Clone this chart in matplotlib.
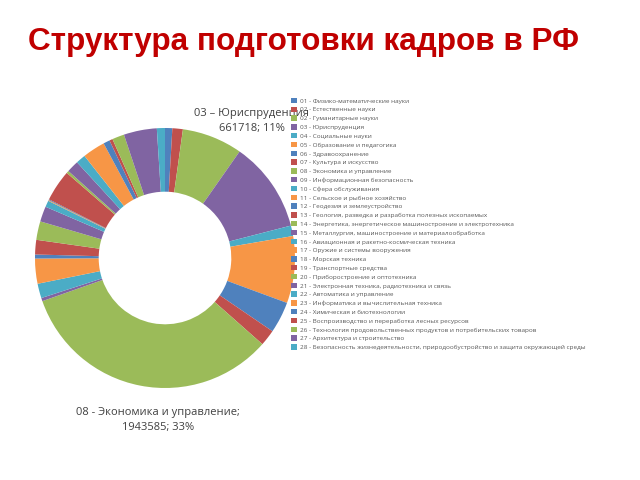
import matplotlib
matplotlib.use("Agg")
import matplotlib.pyplot as plt

title = "Структура подготовки кадров в РФ"

categories = [
    "01 - Физико-математические науки",
    "02 - Естественные науки",
    "02 - Гуманитарные науки",
    "03 - Юриспруденция",
    "04 - Социальные науки",
    "05 - Образование и педагогика",
    "06 - Здравоохранение",
    "07 - Культура и искусство",
    "08 - Экономика и управление",
    "09 - Информационная безопасность",
    "10 - Сфера обслуживания",
    "11 - Сельское и рыбное хозяйство",
    "12 - Геодезия и землеустройство",
    "13 - Геология, разведка и разработка полезных ископаемых",
    "14 - Энергетика, энергетическое машиностроение и электротехника",
    "15 - Металлургия, машиностроение и материалообработка",
    "16 - Авиационная и ракетно-космическая техника",
    "17 - Оружие и системы вооружения",
    "18 - Морская техника",
    "19 - Транспортные средства",
    "20 - Приборостроение и оптотехника",
    "21 - Электронная техника, радиотехника и связь",
    "22 - Автоматика и управление",
    "23 - Информатика и вычислительная техника",
    "24 - Химическая и биотехнологии",
    "25 - Воспроизводство и переработка лесных ресурсов",
    "26 - Технология продовольственных продуктов и потребительских товаров",
    "27 - Архитектура и строительство",
    "28 - Безопасность жизнедеятельности, природообустройство и защита окружающей среды",
]

values = [
    53000, 76600, 441700, 661718, 76600, 488900, 229700, 117800, 1943585,
    23600, 106000, 182600, 29500, 106000, 135500, 111900, 47100, 5900, 5900,
    229700, 17700, 88400, 70700, 164900, 47100, 23600, 88400, 241500, 58900,
]

palette = ["#4F81BD", "#C0504D", "#9BBB59", "#8064A2", "#4BACC6", "#F79646"]
colors = [palette[i % len(palette)] for i in range(len(values))]

label_03 = "03 – Юриспруденция\n661718; 11%"
label_08 = "08 - Экономика и управление;\n1943585; 33%"

fig = plt.figure(figsize=(6.4, 4.8), dpi=100)
fig.patch.set_facecolor("white")

cx, cy, R = 165, 258, 130
ax = fig.add_axes([(cx - R) / 640, (480 - cy - R) / 480, 2 * R / 640, 2 * R / 480])
wedges, _ = ax.pie(values, colors=colors, startangle=90, counterclock=False,
                   radius=1.0, wedgeprops=dict(width=0.49, linewidth=0))
ax.set_xlim(-1, 1)
ax.set_ylim(-1, 1)
ax.set_aspect("equal")
ax.axis("off")

fig.text(28 / 640, 1 - 42 / 480, title, color="#C00000", fontsize=22.7,
         fontweight="bold", family="Liberation Sans", va="center", ha="left")

fig.text(252 / 640, 1 - 121 / 480, label_03, fontsize=8, family="Open Sans",
         color="#404040", ha="center", va="center", linespacing=1.45, zorder=1)
fig.text(158 / 640, 1 - 420 / 480, label_08, fontsize=8, family="Open Sans",
         color="#404040", ha="center", va="center", linespacing=1.4)

leg = fig.legend(wedges, categories, loc="upper left",
                 bbox_to_anchor=(287 / 640, 1 - 94 / 480), frameon=False,
                 handlelength=0.9, handleheight=0.9,
                 handletextpad=0.5, labelspacing=0.46, borderpad=0.1,
                 prop=dict(family="Open Sans", size=4.6))
for t in leg.get_texts():
    t.set_color("#595959")
leg.set_zorder(5)

fig.savefig("out.png", dpi=100, facecolor="white")
